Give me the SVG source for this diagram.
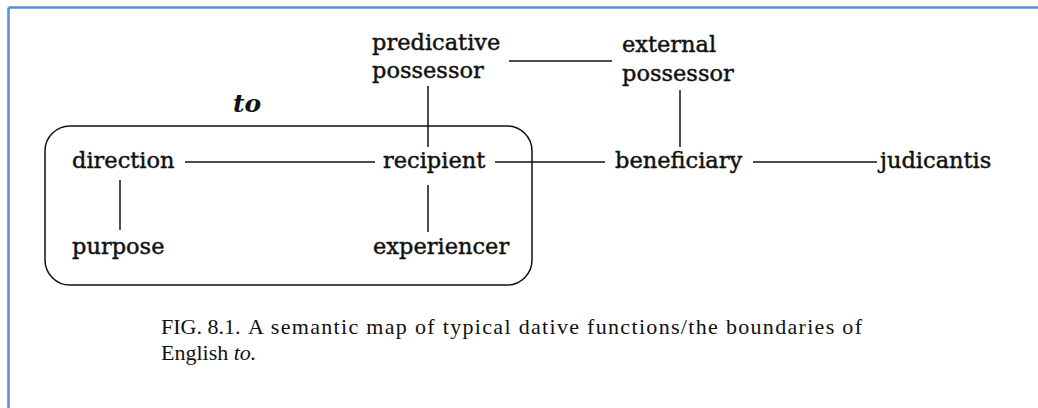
<svg xmlns="http://www.w3.org/2000/svg" width="1038" height="408" viewBox="0 0 1038 408">
<style>
.n{font-family:"DejaVu Serif","Liberation Serif",serif;font-size:22.5px;fill:#111;stroke:#111;stroke-width:0.45}
.to{font-family:"DejaVu Serif","Liberation Serif",serif;font-size:25px;font-weight:bold;font-style:italic;fill:#111}
.cap{font-family:"Liberation Serif","Times New Roman",serif;font-size:22px;fill:#111}
.c{stroke:#111;stroke-width:1.5;fill:none}
.frame{stroke:#5B8DD6;stroke-width:2.5;fill:none}
</style>
<rect width="1038" height="408" fill="#fff"/>
<g id="frame">
<line class="frame" x1="8.5" y1="7.5" x2="1038" y2="7.5"/>
<line class="frame" x1="8.5" y1="7.5" x2="8.5" y2="408"/>
</g>
<g id="to-box">
<rect class="c" x="45" y="126" width="487" height="159" rx="25" ry="25" stroke-width="2"/>
<text class="to" x="233" y="112">to</text>
</g>
<g id="connectors">
<line class="c" x1="509" y1="61" x2="612" y2="61"/>
<line class="c" x1="428" y1="86" x2="428" y2="147"/>
<line class="c" x1="680" y1="90" x2="680" y2="147"/>
<line class="c" x1="185" y1="162" x2="375" y2="162"/>
<line class="c" x1="495" y1="162" x2="605" y2="162"/>
<line class="c" x1="753" y1="162" x2="877" y2="162"/>
<line class="c" x1="120" y1="180" x2="120" y2="230"/>
<line class="c" x1="428" y1="185" x2="428" y2="232"/>
</g>
<g id="predicative-possessor"><text class="n" x="372" y="50">predicative</text><text class="n" x="372" y="78">possessor</text></g>
<g id="external-possessor"><text class="n" x="622" y="52">external</text><text class="n" x="622" y="81">possessor</text></g>
<g id="direction"><text class="n" x="72" y="168">direction</text></g>
<g id="recipient"><text class="n" x="383" y="168">recipient</text></g>
<g id="beneficiary"><text class="n" x="615" y="168">beneficiary</text></g>
<g id="judicantis"><text class="n" x="880" y="168">judicantis</text></g>
<g id="purpose"><text class="n" x="72" y="254">purpose</text></g>
<g id="experiencer"><text class="n" x="373" y="254">experiencer</text></g>
<g id="caption">
<text class="cap" x="161" y="334" font-size="21">FIG. 8.1.</text>
<text class="cap" x="248" y="334" textLength="614" lengthAdjust="spacing">A semantic map of typical dative functions/the boundaries of</text>
<text class="cap" x="161" y="360">English <tspan font-style="italic">to.</tspan></text>
</g>
</svg>
